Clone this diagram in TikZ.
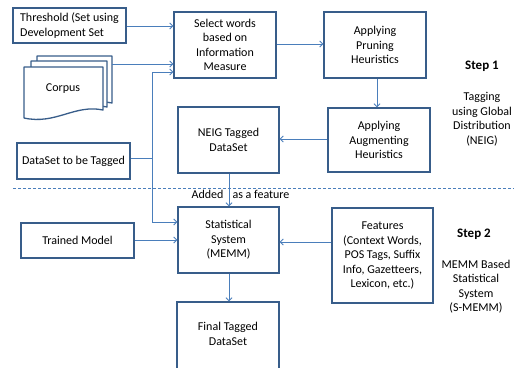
\documentclass[tikz,border=0pt]{standalone}
\usepackage{fontspec}
\setmainfont{Carlito}
\usetikzlibrary{arrows.meta,calc}
\definecolor{boxc}{HTML}{385D8A}
\definecolor{arrc}{HTML}{4A7EBB}
\newcommand\docpage[5]{%
  \draw[boxc, line width=1.3pt, fill=white, line join=round]
    (#1,#2) -- (#3,#2) -- (#3,#5)
    .. controls ({#3-0.36*(#3-#1)},{#5-6}) and ({#1+0.4*(#3-#1)},{#4+7}) .. (#1,#4) -- cycle;}
\begin{document}
\begin{tikzpicture}[x=1pt,y=-1pt,
  font=\fontsize{12}{14.5}\selectfont,
  box/.style={draw=boxc, line width=1.3pt, fill=white, align=center, inner sep=1pt},
  arr/.style={draw=arrc, line width=0.9pt, -{Straight Barb[length=3pt,width=6pt]}},
  ln/.style={draw=arrc, line width=0.9pt},
  steplbl/.style={font=\bfseries\fontsize{13}{15}\selectfont},
  desc/.style={align=center}]
\useasboundingbox (0,0) rectangle (514,367);
\clip (0,0) rectangle (514,367);

% corpus stack
\docpage{37}{56}{112}{112}{103}
\docpage{31}{61}{107}{115}{107}
\docpage{24}{67}{103}{118}{110}
\node (corpus) at (63,89) {Corpus};
\coordinate (corpusR) at (112,64);

% boxes
\node[box, minimum width=113pt, minimum height=35pt, align=left] (thr) at (69.5,25.5) {Threshold (Set using\\Development Set};
\node[box, minimum width=102pt, minimum height=66pt] (sel) at (225,45) {Select words\\based on\\Information\\Measure};
\node[box, minimum width=102pt, minimum height=66pt] (prun) at (375,45) {Applying\\Pruning\\Heuristics};
\node[box, minimum width=102pt, minimum height=64pt] (aug) at (379,140) {Applying\\Augmenting\\Heuristics};
\node[box, minimum width=101pt, minimum height=66pt] (neig) at (228.5,140) {NEIG Tagged\\DataSet};
\node[box, minimum width=113pt, minimum height=36pt] (dtag) at (73.5,161) {DataSet to be Tagged};
\node[box, minimum width=101pt, minimum height=66pt] (stat) at (228.5,240) {Statistical\\System\\(MEMM)};
\node[box, minimum width=113pt, minimum height=35pt] (trained) at (77.5,240.5) {Trained Model};
\node[box, minimum width=101pt, minimum height=95pt] (feat) at (382.5,255.5) {Features\\(Context Words,\\POS Tags, Suffix\\Info, Gazetteers,\\Lexicon, etc.)};
\node[box, minimum width=102pt, minimum height=76pt, text depth=0pt] (final) at (228,340) {};
\node[align=center] (finaltxt) at (228,334) {Final Tagged\\DataSet};

% step labels
\node[steplbl] (s1) at (482,66) {Step 1};
\node[desc] (d1) at (482,119) {Tagging\\using Global\\Distribution\\(NEIG)};
\node[steplbl] (s2) at (474,234) {Step 2};
\node[desc] (d2) at (476,286.5) {MEMM Based\\Statistical\\System\\(S-MEMM)};

% dashed separator
\coordinate (dl) at (13,188);
\coordinate (dr) at (514,188);
\draw[arrc, line width=1pt, dash pattern=on 3pt off 2pt] (dl) -- (dr);

\node (add1) at (207.5,194) {Added};
\node (add2) at (261,194) {as a feature};

% connectors
\draw[arr] (thr.east |- 0,26) -- (sel.west |- 0,26);
\draw[arr] (corpusR) -- (sel.west |- corpusR);
\coordinate (j) at (152,158);
\coordinate (jt) at (152,72);
\coordinate (jb) at (152,222);
\draw[ln] (dtag.east |- j) -- (j);
\draw[arr] (j) -- (jt) -- (sel.west |- jt);
\draw[arr] (j) -- (jb) -- (stat.west |- jb);
\draw[arr] (sel.east |- 0,44) -- (prun.west |- 0,44);
\draw[arr] (prun.south -| 377,0) -- (aug.north -| 377,0);
\draw[arr] (aug.west |- 0,139) -- (neig.east |- 0,139);
\draw[arr] (neig.south -| 229,0) -- (stat.north -| 229,0);
\draw[arr] (trained.east |- 0,240) -- (stat.west |- 0,240);
\draw[arr] (feat.west |- 0,242) -- (stat.east |- 0,242);
\draw[arr] (stat.south -| 229,0) -- (final.north -| 229,0);
\end{tikzpicture}
\end{document}
